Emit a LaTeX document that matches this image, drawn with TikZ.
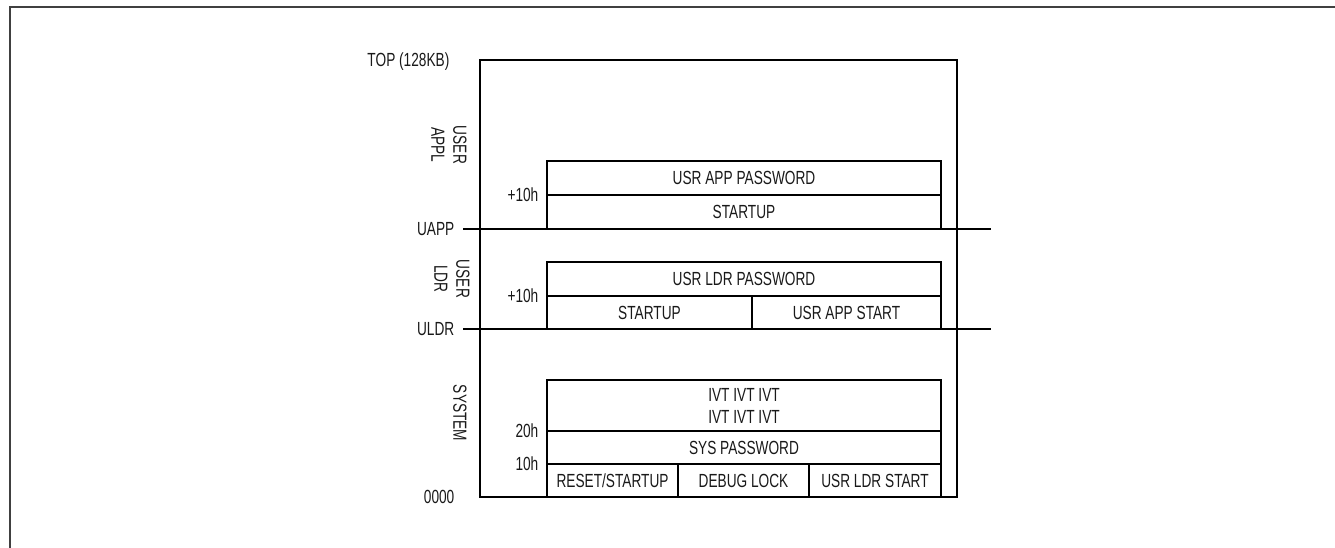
\documentclass[tikz,border=0pt]{standalone}
\usepackage{fontspec}
\setmainfont{Liberation Sans}[FakeStretch=0.72]
\usetikzlibrary{positioning}
\tikzset{
  celda/.style={draw, inner sep=0pt, outer sep=0pt, anchor=north west, text height=13.6pt, text depth=0pt},
  etiq/.style={inner sep=0pt, text height=13.6pt, text depth=0pt},
  rotulo/.style={inner sep=0pt, rotate=-90, align=center}
}
\begin{document}
\begin{tikzpicture}[x=1pt, y=-1pt, line width=1.3pt, text=black!90, font=\fontsize{19}{22}\selectfont]
            \clip (0,0) rectangle (1335,548);
            % Marco exterior
            \draw[line width=2pt, black!75] (10,560) -- (10,7) -- (1345,7);

            % Bloque de memoria
            \node[draw, inner sep=0pt, outer sep=0pt, anchor=north west, minimum width=477pt, minimum height=437pt] (memoria) at (480,60) {};
            \node[etiq, anchor=east] (top) at ([xshift=-30pt]memoria.north west) {TOP (128KB)};
            \node[etiq, anchor=east] (cero) at ([xshift=-25pt]memoria.south west) {0000};

            % Zona de aplicacion
            \node[celda, minimum width=394pt, minimum height=34pt] (uapw) at (547,161) {USR APP PASSWORD};
            \node[celda, minimum width=394pt, minimum height=34pt] (uast) at (uapw.south west) {STARTUP};
            \node[etiq, anchor=east] (uoff) at ([xshift=-8pt]uapw.south west) {+10h};
            \node[rotulo] (uappl) at (449,145) {USER\\APPL};
            \node[etiq, anchor=east] (uapp) at (455,229) {UAPP};
            \coordinate (uappfin) at (991,229);
            \draw ([xshift=8pt]uapp.east) -- (uappfin);

            % Zona del cargador
            \node[celda, minimum width=394pt, minimum height=34pt] (ulpw) at (547,262) {USR LDR PASSWORD};
            \node[celda, minimum width=205pt, minimum height=33pt] (ulst) at (ulpw.south west) {STARTUP};
            \node[celda, minimum width=189pt, minimum height=33pt] (ulapp) at (ulst.north east) {USR APP START};
            \node[etiq, anchor=east] (loff) at ([xshift=-8pt]ulpw.south west) {+10h};
            \node[rotulo] (uldrl) at (452,279) {USER\\LDR};
            \node[etiq, anchor=east] (uldr) at (455,329) {ULDR};
            \coordinate (uldrfin) at (991,329);
            \draw ([xshift=8pt]uldr.east) -- (uldrfin);

            % Zona del sistema
            \node[celda, minimum width=394pt, minimum height=51pt] (ivt) at (547,380) {};
            \node[align=center, inner sep=0pt] (ivttxt) at (ivt.center) {IVT IVT IVT\\IVT IVT IVT};
            \node[celda, minimum width=394pt, minimum height=33pt] (syspw) at (ivt.south west) {SYS PASSWORD};
            \node[celda, minimum width=131pt, minimum height=33pt] (reset) at (syspw.south west) {RESET/STARTUP};
            \node[celda, minimum width=131pt, minimum height=33pt] (debug) at (reset.north east) {DEBUG LOCK};
            \node[celda, minimum width=132pt, minimum height=33pt] (uldrst) at (debug.north east) {USR LDR START};
            \node[etiq, anchor=east] (o20) at ([xshift=-8pt]ivt.south west) {20h};
            \node[etiq, anchor=east] (o10) at ([xshift=-8pt]syspw.south west) {10h};
            \node[rotulo] (sysl) at (460,413) {SYSTEM};
\end{tikzpicture}
\end{document}
